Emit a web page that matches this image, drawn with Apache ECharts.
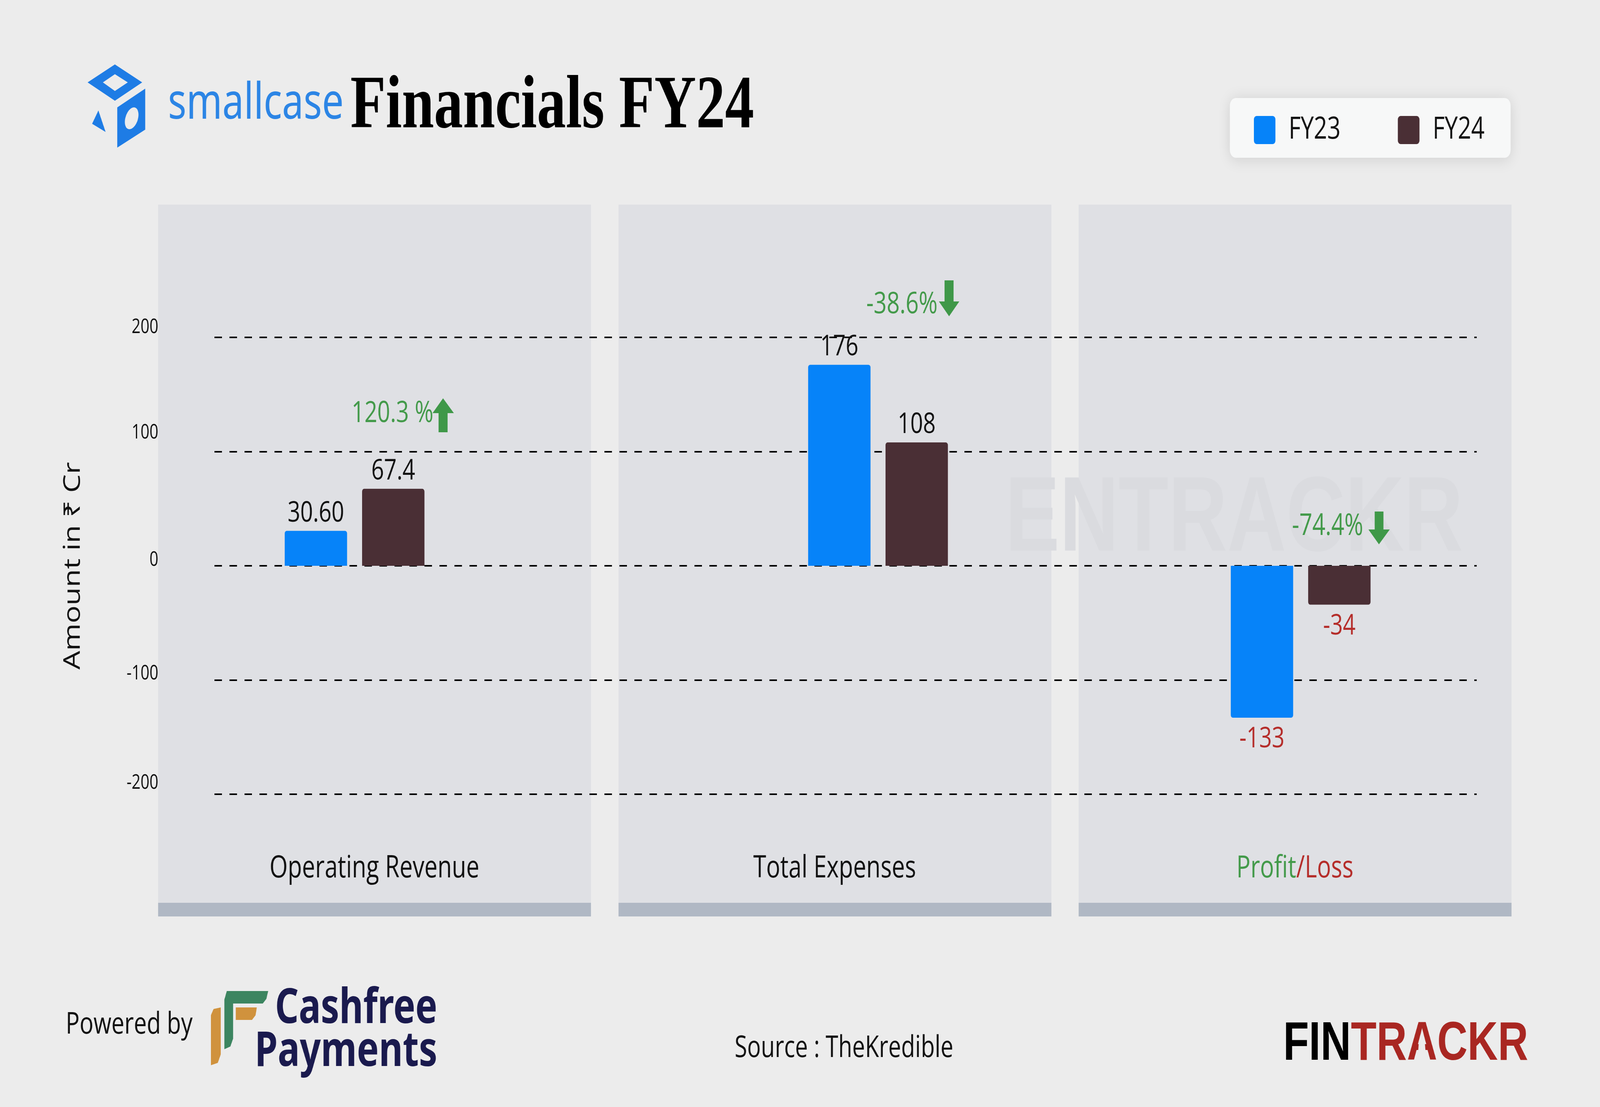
<!DOCTYPE html>
<html>
<head>
<meta charset="utf-8">
<title>smallcase Financials FY24</title>
<style>
  html, body { margin: 0; padding: 0; background: #ececec; overflow: hidden; }
  #main { width: 5334px; height: 2835px; transform-origin: 0 0; }
</style>
<script src="https://cdn.jsdelivr.net/npm/echarts@6/dist/echarts.min.js"></script>
</head>
<body>
<div id="main"></div>
<script>
// data
var categories = ['Operating Revenue', 'Total Expenses', 'Profit/Loss'];
var seriesNames = ['FY23', 'FY24'];
var fy23Values = [30.6, 176, -133];
var fy24Values = [67.4, 108, -34];
var fy23Labels = ['30.60', '176', '-133'];
var fy24Labels = ['67.4', '108', '-34'];
var yTicks = [-200, -100, 0, 100, 200];
var changeLabels = ['120.3 %', '-38.6%', '-74.4%'];

var BLUE = '#0683f9', BROWN = '#4a2f35', GREEN = '#439a4a', RED = '#b52d2a';
var FONT = '"Open Sans", sans-serif';
var PLOT_TOP = 864, PLOT_HEIGHT = 1170;

// layout is in reference pixels, the window may be smaller than that
var dom = document.getElementById('main');
dom.style.transform = 'scale(' + (window.innerWidth / 5334) + ',' + (window.innerHeight / 2835) + ')';

// the tick labels sit a bit above their lines, not by the same amount each
var tickLift = { '200': 52, '100': 96, '0': 30, '-100': 32, '-200': 58 };
var tickRich = {};
yTicks.forEach(function (t, i) {
    tickRich['t' + i] = { padding: [0, 0, tickLift[t], 0], fontSize: 52, fontFamily: FONT, color: '#111' };
});

function barItem(v, labelText) {
    var neg = v < 0;
    return {
        value: v,
        itemStyle: { borderRadius: neg ? [0, 0, 7, 7] : [7, 7, 0, 0] },
        label: {
            show: true,
            position: neg ? 'bottom' : 'top',
            distance: neg ? 18 : 8,
            formatter: labelText,
            fontFamily: FONT,
            fontSize: 74,
            color: neg ? RED : '#111'
        }
    };
}

// the bar pairs are not evenly spaced across the panels, so each pair gets its own grid
var grids = [], xAxes = [], yAxes = [], seriesList = [];
[682, 2427, 3836].forEach(function (left, i) {
    grids.push({ left: left, width: 1000, top: PLOT_TOP, height: PLOT_HEIGHT });
    xAxes.push({ gridIndex: i, type: 'category', data: [categories[i]], show: false });
    yAxes.push({ gridIndex: i, type: 'value', min: -200, max: 200, interval: 100, show: false });
    seriesList.push({
        name: seriesNames[0], type: 'bar', xAxisIndex: i, yAxisIndex: i,
        barWidth: 208, barGap: '24%', itemStyle: { color: BLUE },
        data: [barItem(fy23Values[i], fy23Labels[i])]
    });
    seriesList.push({
        name: seriesNames[1], type: 'bar', xAxisIndex: i, yAxisIndex: i,
        barWidth: 208, barGap: '24%', itemStyle: { color: BROWN },
        data: [barItem(fy24Values[i], fy24Labels[i])]
    });
});

// dashed lines and tick labels
grids.push({ left: 715, right: 411, top: PLOT_TOP, height: PLOT_HEIGHT });
xAxes.push({ gridIndex: 3, type: 'value', min: 0, max: 1, show: false });
yAxes.push({
    gridIndex: 3, type: 'value', min: -200, max: 200, interval: 100,
    name: 'Amount in ₹ Cr',
    nameLocation: 'middle',
    nameGap: 433,
    nameRotate: 90,
    nameTextStyle: { fontFamily: FONT, fontSize: 76, color: '#111' },
    axisLine: { show: false }, axisTick: { show: false },
    splitLine: { show: true, lineStyle: { color: '#000', width: 4, type: [25, 25] } },
    axisLabel: {
        margin: 187,
        formatter: function (v) { return '{t' + yTicks.indexOf(v) + '|' + v + '}'; },
        rich: tickRich
    }
});

// panel captions
grids.push({ left: 481, right: 250, top: PLOT_TOP, height: PLOT_HEIGHT });
xAxes.push({
    gridIndex: 4, type: 'category', data: categories, position: 'bottom',
    axisLine: { show: false }, axisTick: { show: false },
    axisLabel: {
        margin: 152,
        fontFamily: FONT,
        fontSize: 78,
        color: '#111',
        formatter: function (v) {
            var parts = v.split('/');
            return parts.length > 1 ? '{g|' + parts[0] + '}{r|/' + parts[1] + '}' : v;
        },
        rich: {
            g: { fontFamily: FONT, fontSize: 78, color: GREEN },
            r: { fontFamily: FONT, fontSize: 78, color: RED }
        }
    }
});
yAxes.push({ gridIndex: 4, type: 'value', min: -200, max: 200, interval: 100, show: false });

// panels behind the plot
var graphics = [];
[527, 2062, 3596].forEach(function (x) {
    graphics.push({ type: 'rect', z: -10, shape: { x: x, y: 524, width: 1443, height: 1823 }, style: { fill: '#dfe0e4' } });
    graphics.push({ type: 'rect', z: -9, shape: { x: x, y: 2312, width: 1443, height: 35 }, style: { fill: '#b0b8c4' } });
});

function poly(points, fill) {
    return { type: 'polygon', z: 5, shape: { points: points }, style: { fill: fill } };
}
function text(x, y, str, size, color, extra) {
    var style = { x: x, y: y, text: str, fontSize: size, fontFamily: FONT, fill: color, textVerticalAlign: 'middle' };
    for (var k in extra) style[k] = extra[k];
    return { type: 'text', z: 5, style: style };
}

// watermark
graphics.push({
    type: 'text', z: -5,
    style: { x: 3351, y: 1335, text: 'ENTRACKR', fontSize: 272, fontWeight: 'bold', fontFamily: '"Liberation Sans"', fill: '#dadbdf', textVerticalAlign: 'middle' }
});

// smallcase logo
var LOGO_BLUE = '#1e7ce5';
graphics.push(poly([[383, 165], [474, 211], [383, 258], [292, 211]], LOGO_BLUE));
graphics.push(poly([[383, 190], [426, 211], [383, 233], [343, 211]], '#ececec'));
graphics.push(poly([[484, 227], [484, 332], [391, 378], [391, 275]], LOGO_BLUE));
graphics.push({ type: 'ellipse', z: 6, rotation: -0.5, x: 439, y: 303, shape: { cx: 0, cy: 0, rx: 20, ry: 30 }, style: { fill: '#ececec' } });
graphics.push(poly([[328, 283], [352, 338], [307, 317]], LOGO_BLUE));
graphics.push(text(560, 268, 'smallcase', 128, '#2c85e5', { fontFamily: '"Noto Sans"' }));

// change notes with arrows
graphics.push(text(1172, 1060, changeLabels[0], 75, GREEN));
graphics.push(poly([[1477, 1020], [1513, 1058], [1492, 1058], [1492, 1107], [1462, 1107], [1462, 1058], [1442, 1058]], '#3f9848'));
graphics.push(text(2888, 780, changeLabels[1], 76, GREEN));
graphics.push(poly([[3149, 718], [3179, 718], [3179, 772], [3198, 772], [3164, 810], [3130, 772], [3149, 772]], '#3f9848'));
graphics.push(text(4307, 1348, changeLabels[2], 76, GREEN));
graphics.push(poly([[4583, 1310], [4612, 1310], [4612, 1356], [4633, 1356], [4597, 1394], [4562, 1356], [4583, 1356]], '#3f9848'));

// footer
graphics.push(text(219, 2625, 'Powered by', 77, '#111'));
graphics.push(poly([[748, 2560], [756, 2538], [894, 2538], [888, 2558], [876, 2570], [777, 2570], [777, 2660], [768, 2680], [748, 2687]], '#3c8560'));
graphics.push(poly([[703, 2600], [712, 2584], [736, 2580], [736, 2700], [726, 2722], [703, 2728]], '#d0923d'));
graphics.push(poly([[786, 2580], [856, 2580], [852, 2600], [840, 2612], [786, 2612]], '#d0923d'));
graphics.push(text(1458, 2585, 'Cashfree', 123, '#1a1a4e', { fontWeight: 'bold', fontFamily: '"Noto Sans"', textAlign: 'right' }));
graphics.push(text(1458, 2695, 'Payments', 123, '#1a1a4e', { fontWeight: 'bold', fontFamily: '"Noto Sans"', textAlign: 'right' }));
graphics.push(text(2449, 2685, 'Source : TheKredible', 76, '#111'));
graphics.push({
    type: 'text', z: 5,
    style: {
        x: 4278, y: 2675, text: '{a|FIN}{b|TRACKR}', textVerticalAlign: 'middle',
        rich: {
            a: { fontSize: 140, fontWeight: 'bold', fontFamily: '"Liberation Sans"', fill: '#000' },
            b: { fontSize: 140, fontWeight: 'bold', fontFamily: '"Liberation Sans"', fill: '#a92722' }
        }
    }
});
// rocket cut out of the A
var rocketX = 4740;
var rocket = poly([[rocketX, 2648], [rocketX + 10, 2670], [rocketX + 12, 2688], [rocketX + 18, 2700], [rocketX + 16, 2714], [rocketX + 7, 2708], [rocketX + 7, 2727],
    [rocketX - 7, 2727], [rocketX - 7, 2708], [rocketX - 16, 2714], [rocketX - 18, 2700], [rocketX - 12, 2688], [rocketX - 10, 2670]], '#ececec');
rocket.z = 6;
graphics.push(rocket);

var myChart = echarts.init(dom, null, { width: 5334, height: 2835 });
var option = {
    animation: false,
    backgroundColor: '#ececec',
    title: {
        text: 'Financials FY24',
        left: 1168,
        top: 180,
        padding: 0,
        textStyle: { fontFamily: '"Liberation Serif"', fontWeight: 'bold', fontSize: 193, color: '#000' }
    },
    legend: {
        data: seriesNames,
        left: 4100,
        top: 251,
        padding: [43, 87, 32, 80],
        icon: 'path://M2,0H14a2,2 0 0 1 2,2V14a2,2 0 0 1-2,2H2a2,2 0 0 1-2-2V2a2,2 0 0 1 2-2z',
        itemWidth: 72,
        itemHeight: 72,
        itemGap: 191,
        backgroundColor: '#f7f8f8',
        borderRadius: 20,
        shadowBlur: 40,
        shadowColor: 'rgba(0,0,0,0.12)',
        shadowOffsetY: 4,
        textStyle: { fontFamily: FONT, fontSize: 78, color: '#111', padding: [0, 0, 0, 39] }
    },
    grid: grids,
    xAxis: xAxes,
    yAxis: yAxes,
    series: seriesList,
    graphic: { elements: graphics }
};
myChart.setOption(option);
</script>
</body>
</html>
